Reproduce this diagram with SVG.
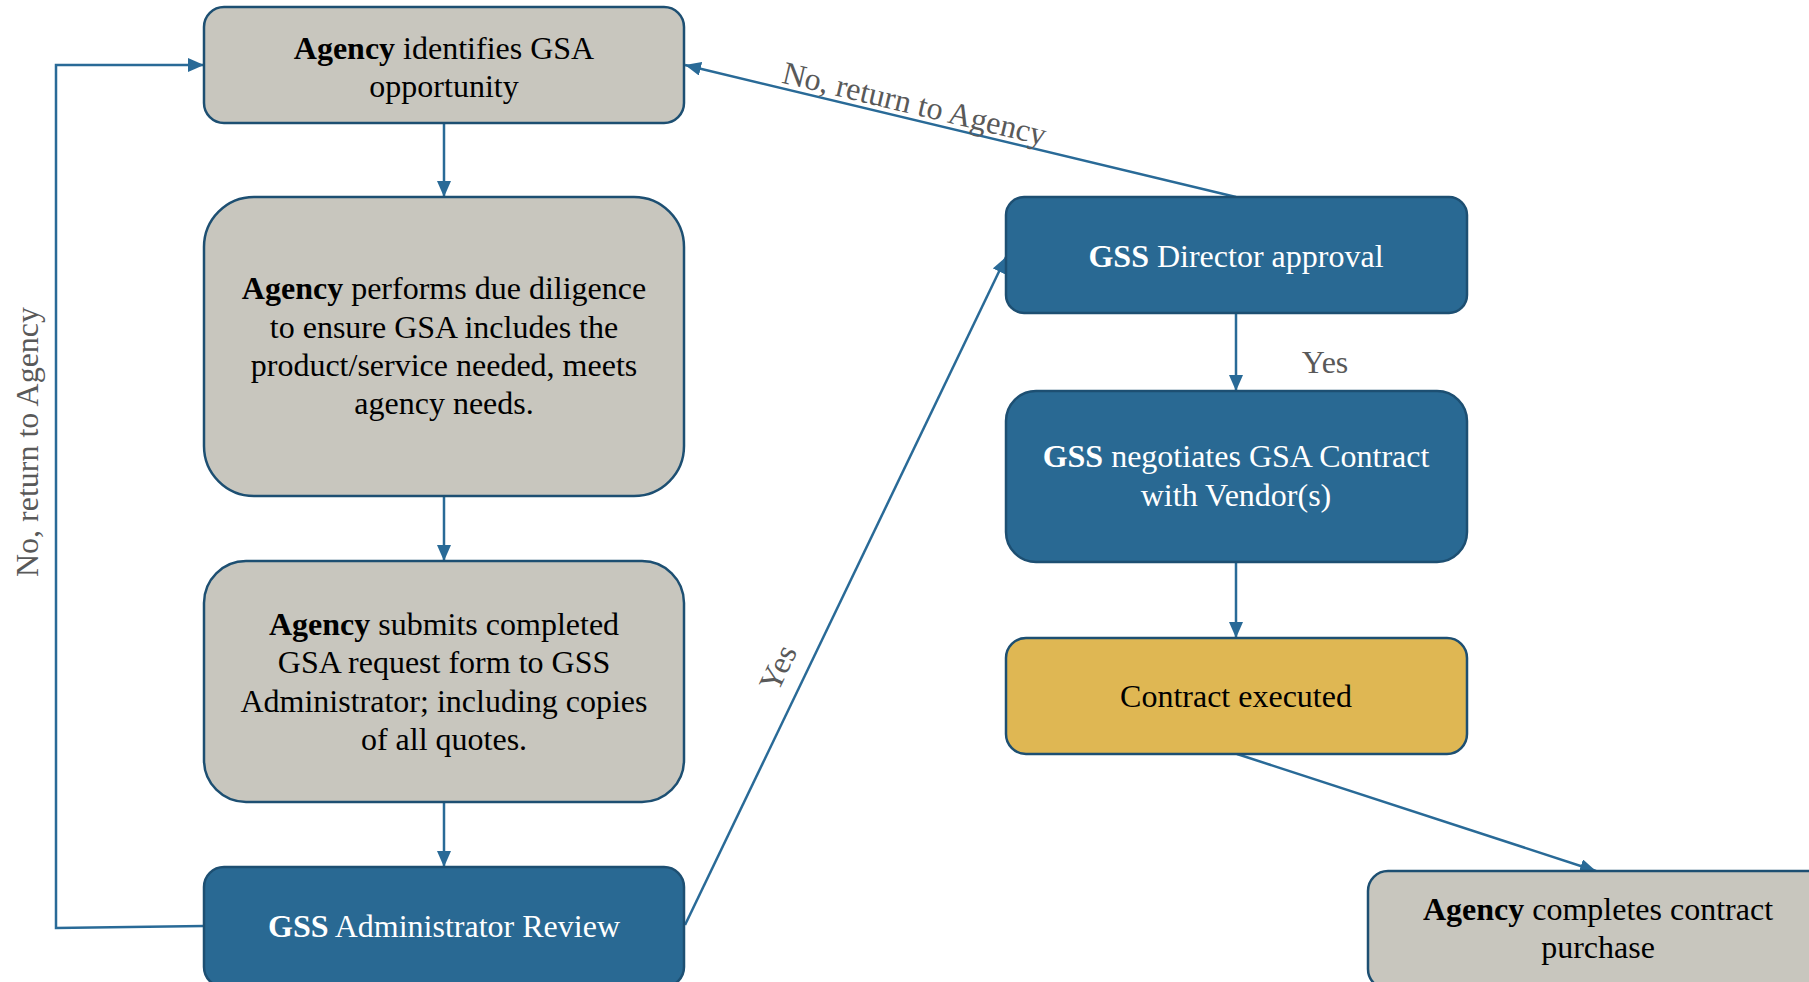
<svg xmlns="http://www.w3.org/2000/svg" width="1809" height="982" viewBox="0 0 1809 982">
<style>
.g{fill:#c8c6be;stroke:#1d4f72;stroke-width:2.5}
.b{fill:#296993;stroke:#1d4f72;stroke-width:2.5}
.y{fill:#dfb753;stroke:#1d4f72;stroke-width:2.5}
text{font-family:"Liberation Serif","Times New Roman",serif;font-size:32px;text-anchor:middle}
.dk{fill:#000}
.wt{fill:#fff}
.lb{fill:#595959}
.c{fill:none;stroke:#296a97;stroke-width:2.5}
b{font-weight:bold}
</style>
<defs>
<marker id="ah" markerUnits="userSpaceOnUse" markerWidth="16" markerHeight="14" refX="16" refY="7" orient="auto">
<path d="M0,0 L16,7 L0,14 z" fill="#296a97"/>
</marker>
</defs>
<rect width="1809" height="982" fill="#fff"/>
<g id="connectors">
<line class="c" x1="444" y1="123" x2="444" y2="197" marker-end="url(#ah)"/>
<line class="c" x1="444" y1="496" x2="444" y2="561" marker-end="url(#ah)"/>
<line class="c" x1="444" y1="802" x2="444" y2="867" marker-end="url(#ah)"/>
<polyline class="c" points="204,926 56,928 56,65 204,65" marker-end="url(#ah)"/>
<line class="c" x1="685" y1="925" x2="1006" y2="257" marker-end="url(#ah)"/>
<line class="c" x1="1236" y1="197" x2="685" y2="65" marker-end="url(#ah)"/>
<line class="c" x1="1236" y1="313" x2="1236" y2="391" marker-end="url(#ah)"/>
<line class="c" x1="1236" y1="562" x2="1236" y2="638" marker-end="url(#ah)"/>
<line class="c" x1="1237" y1="754" x2="1596" y2="871" marker-end="url(#ah)"/>
<text class="lb" transform="translate(38,442) rotate(-90)">No, return to Agency</text>
<text class="lb" transform="translate(912,114) rotate(13.5)">No, return to Agency</text>
<text class="lb" transform="translate(787.5,672.5) rotate(-64.4)">Yes</text>
<text class="lb" x="1325" y="373">Yes</text>
</g>
<g id="n1">
<rect class="g" x="204" y="7" width="480" height="116" rx="20"/>
<text class="dk" x="444" y="59"><tspan font-weight="bold">Agency</tspan> identifies GSA</text>
<text class="dk" x="444" y="97">opportunity</text>
</g>
<g id="n2">
<rect class="g" x="204" y="197" width="480" height="299" rx="50"/>
<text class="dk" x="444" y="299"><tspan font-weight="bold">Agency</tspan> performs due diligence</text>
<text class="dk" x="444" y="337.5">to ensure GSA includes the</text>
<text class="dk" x="444" y="376">product/service needed, meets</text>
<text class="dk" x="444" y="414">agency needs.</text>
</g>
<g id="n3">
<rect class="g" x="204" y="561" width="480" height="241" rx="42"/>
<text class="dk" x="444" y="635"><tspan font-weight="bold">Agency</tspan> submits completed</text>
<text class="dk" x="444" y="673">GSA request form to GSS</text>
<text class="dk" x="444" y="712">Administrator; including copies</text>
<text class="dk" x="444" y="750">of all quotes.</text>
</g>
<g id="n4">
<rect class="b" x="204" y="867" width="480" height="120" rx="20"/>
<text class="wt" x="444" y="937"><tspan font-weight="bold">GSS</tspan> Administrator Review</text>
</g>
<g id="n5">
<rect class="b" x="1006" y="197" width="461" height="116" rx="18"/>
<text class="wt" x="1236" y="267"><tspan font-weight="bold">GSS</tspan> Director approval</text>
</g>
<g id="n6">
<rect class="b" x="1006" y="391" width="461" height="171" rx="30"/>
<text class="wt" x="1236" y="467"><tspan font-weight="bold">GSS</tspan> negotiates GSA Contract</text>
<text class="wt" x="1236" y="506">with Vendor(s)</text>
</g>
<g id="n7">
<rect class="y" x="1006" y="638" width="461" height="116" rx="20"/>
<text class="dk" x="1236" y="707">Contract executed</text>
</g>
<g id="n8">
<rect class="g" x="1368" y="871" width="461" height="118" rx="20"/>
<text class="dk" x="1598" y="920"><tspan font-weight="bold">Agency</tspan> completes contract</text>
<text class="dk" x="1598" y="958">purchase</text>
</g>
</svg>
